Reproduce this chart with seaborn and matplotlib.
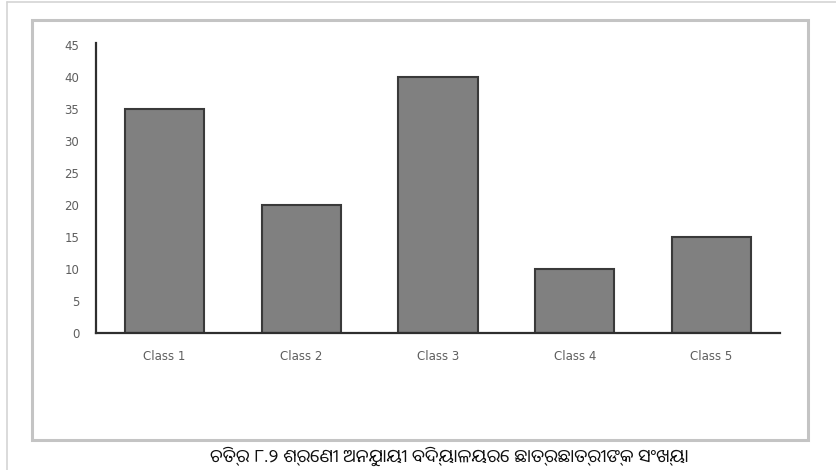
import matplotlib
matplotlib.use("Agg")
import matplotlib.pyplot as plt
from matplotlib.patches import Rectangle
from matplotlib.lines import Line2D
import pandas as pd
import seaborn as sns

# Number of students in each class
classes = ["Class 1", "Class 2", "Class 3", "Class 4", "Class 5"]
students = [35, 20, 40, 10, 15]
y_ticks = [0, 5, 10, 15, 20, 25, 30, 35, 40, 45]
caption = "ଚିତ୍ର ୮.୨ ଶ୍ରେଣୀ ଅନୁଯାୟୀ ବିଦ୍ୟାଳୟରେ ଛାତ୍ରଛାତ୍ରୀଙ୍କ ସଂଖ୍ୟା"

df = pd.DataFrame({"class": classes, "students": students})

sns.set_theme(style="white")
plt.rcParams["font.family"] = ["DejaVu Sans"]

W, H = 836, 470
fig = plt.figure(figsize=(W / 100, H / 100), dpi=100)
fig.patch.set_facecolor("white")

# page edges
fig.add_artist(Line2D([7 / W, 1], [1 - 2 / H, 1 - 2 / H], color="#d4d4d4", lw=1.2,
                      transform=fig.transFigure))
fig.add_artist(Line2D([7 / W, 7 / W], [0, 1 - 2 / H], color="#d4d4d4", lw=1.2,
                      transform=fig.transFigure))
# chart frame
fig.add_artist(Rectangle((32 / W, 1 - 440 / H), (808 - 32) / W, (440 - 20) / H,
                         transform=fig.transFigure, fill=False,
                         edgecolor="#c4c4c4", lw=2.2))

ax = fig.add_axes([96 / W, 1 - 333 / H, (780 - 96) / W, (333 - 43) / H])
sns.barplot(data=df, x="class", y="students", ax=ax, color="#808080",
            saturation=1, width=0.58, edgecolor="#3a3a3a", linewidth=1.5)

ax.set_xlim(-0.5, 4.5)
ax.set_ylim(0, 45.3)
ax.set_yticks(y_ticks)
ax.set_yticklabels([str(v) for v in y_ticks])
ax.set_xlabel("")
ax.set_ylabel("")
ax.tick_params(axis="both", length=0, labelsize=8.5, labelcolor="#5e5e5e")
ax.tick_params(axis="y", pad=12)
ax.tick_params(axis="x", pad=12)
for side in ("top", "right"):
    ax.spines[side].set_visible(False)
for side in ("left", "bottom"):
    ax.spines[side].set_color("#2e2e2e")
    ax.spines[side].set_linewidth(1.6)
ax.set_facecolor("none")

fig.text(449 / W, 1 - 462 / H, caption, ha="center", va="baseline", fontsize=13,
         family=["Noto Sans Oriya", "DejaVu Sans"], color="#111111")

fig.savefig("out.png", dpi=100, facecolor="white")
